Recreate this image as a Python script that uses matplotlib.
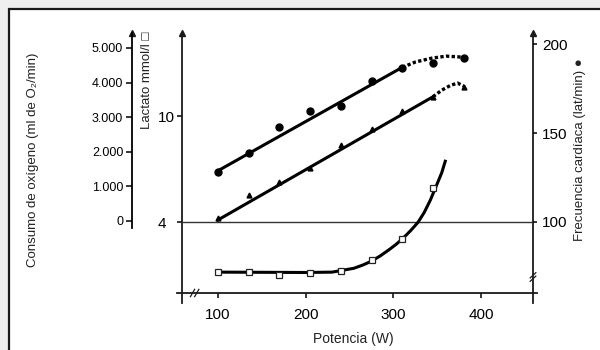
import matplotlib
matplotlib.use("Agg")
from matplotlib import pyplot as plt
from matplotlib.patches import Rectangle

plt.rcParams["font.family"] = ["Liberation Sans", "DejaVu Sans"]

# valores
potencia = [100, 135, 170, 205, 240, 275, 310, 345, 380]
fc = [128.3, 138.6, 153.2, 162.5, 165.2, 179.4, 186.3, 189.2, 192.0]
vo2 = [80, 750, 1140, 1540, 2200, 2660, 3190, 3590, 3880]
lactato_w = [100, 135, 170, 205, 240, 275, 310, 345]
lactato = [1.2, 1.21, 1.02, 1.15, 1.26, 1.87, 3.04, 5.93]

# rectas / curvas de ajuste
fc_recta_w = [100, 310]
fc_recta = [128.8, 186.9]
fc_curva_w = [310, 325, 343, 360, 380]
fc_curva = [186.9, 189.9, 192.0, 193.2, 192.6]
vo2_recta_w = [100, 345]
vo2_recta = [30, 3590]
vo2_curva_w = [345, 355, 365, 373, 380]
vo2_curva = [3590, 3780, 3920, 3985, 3900]
lac_curva_w = [100, 150, 200, 230, 255, 265, 275, 285, 295, 303, 311, 320, 328, 335, 342, 350, 355, 359]
lac_curva = [1.18, 1.17, 1.16, 1.18, 1.4, 1.58, 1.8, 2.1, 2.45, 2.75, 3.1, 3.55, 4.0, 4.55, 5.25, 6.2, 6.8, 7.45]

vo2_ticks = [0, 1000, 2000, 3000, 4000, 5000]
vo2_labels = ["0", "1.000", "2.000", "3.000", "4.000", "5.000"]

fig = plt.figure(figsize=(6, 3.5), dpi=100)
fig.patch.set_facecolor("#efefef")
fig.patches.append(Rectangle((9 / 600, -0.05), 1.0, 1 - 9 / 350 + 0.05,
                             transform=fig.transFigure, fc="white", ec="#1a1a1a",
                             lw=1.6, zorder=-10))

ax = fig.add_axes([182 / 600, 57 / 350, 351 / 600, 260 / 350])
ax.patch.set_visible(False)
ax.set_xlim(59, 459)
ax.set_ylim(0, 14.7)
for s in ax.spines.values():
    s.set_visible(False)

# ejes dibujados a mano
axis_kw = dict(transform=ax.transAxes, clip_on=False, color="#1a1a1a", lw=1.3)
ax.plot([0, 0], [-0.038, 1.0], **axis_kw)
ax.plot([1, 1], [-0.038, 1.0], **axis_kw)
ax.plot([-0.014, 1.011], [0, 0], **axis_kw)
ax.plot([0], [1.0], marker="^", ms=4, color="#1a1a1a", transform=ax.transAxes, clip_on=False)
ax.plot([1], [1.0], marker="^", ms=4, color="#1a1a1a", transform=ax.transAxes, clip_on=False)
ax.axhline(4, color="#333333", lw=1.0)

# marcas de corte
for bx in [0.030, 0.042]:
    ax.plot([bx - 0.006, bx + 0.006], [-0.014, 0.014], transform=ax.transAxes,
            clip_on=False, color="#1a1a1a", lw=0.9)
for by in [0.055, 0.068]:
    ax.plot([0.992, 1.008], [by - 0.01, by + 0.01], transform=ax.transAxes,
            clip_on=False, color="#1a1a1a", lw=0.9)

ax.set_xticks([100, 200, 300, 400])
ax.tick_params(axis="x", direction="out", length=3.6, width=1.1, pad=7, labelsize=11)
ax.set_yticks([4, 10])
ax.tick_params(axis="y", direction="out", length=3.6, width=1.1, pad=1.5, labelsize=11)
t4 = ax.yaxis.get_major_ticks()[0]
t4.tick1line.set_visible(False)
t4.set_pad(8)

ax.plot(lac_curva_w, lac_curva, color="black", lw=2.2, zorder=3)
ax.plot(lactato_w, lactato, "s", ms=5, mfc="white", mec="#222222", mew=0.9, zorder=4)

# frecuencia cardiaca (derecha)
ax_fc = ax.twinx()
ax_fc.set_ylim(60.1, 206.2)
for s in ax_fc.spines.values():
    s.set_visible(False)
ax_fc.set_yticks([100, 150, 200])
ax_fc.tick_params(axis="y", direction="out", length=3, width=1.1, pad=3.5, labelsize=11)
ax_fc.plot(fc_recta_w, fc_recta, color="black", lw=2.2)
ax_fc.plot(fc_curva_w, fc_curva, color="black", lw=2.4, linestyle=(0, (1.0, 0.7)))
ax_fc.plot(potencia, fc, "o", ms=5, color="black")

# consumo de oxigeno (eje izquierdo exterior)
ax_vo2 = ax.twinx()
ax_vo2.set_ylim(-2081, 5433)
for s in ax_vo2.spines.values():
    s.set_visible(False)
ax_vo2.spines["left"].set_visible(True)
ax_vo2.spines["left"].set_position(("axes", -0.1425))
ax_vo2.spines["left"].set_bounds(-200, 5433)
ax_vo2.spines["left"].set_linewidth(1.3)
ax_vo2.yaxis.tick_left()
ax_vo2.set_yticks(vo2_ticks)
ax_vo2.set_yticklabels(vo2_labels)
ax_vo2.tick_params(axis="y", direction="out", length=4.3, width=1.1, pad=2, labelsize=9)
ax_vo2.plot([-0.1425], [1.0], marker="^", ms=4, color="#1a1a1a",
            transform=ax_vo2.transAxes, clip_on=False)
ax_vo2.plot(vo2_recta_w, vo2_recta, color="black", lw=2.2)
ax_vo2.plot(vo2_curva_w, vo2_curva, color="black", lw=2.4, linestyle=(0, (1.0, 0.7)))
ax_vo2.plot(potencia, vo2, "^", ms=3.5, color="black")

# textos
fig.text(33 / 600, 1 - 160 / 350, "Consumo de oxígeno (ml de O₂/min)", rotation=90,
         ha="center", va="center", fontsize=9.5, color="#222222")
fig.text(147 / 600, 1 - 80 / 350, "Lactato mmol/l □", rotation=90,
         ha="center", va="center", fontsize=9.5, color="#222222")
fig.text(580 / 600, 1 - 150 / 350, "Frecuencia cardíaca (lat/min) ●", rotation=90,
         ha="center", va="center", fontsize=9.5, color="#222222")
fig.text(353 / 600, 1 - 339 / 350, "Potencia (W)", ha="center", va="center",
         fontsize=10, color="#222222")

fig.savefig("out.png", dpi=100, facecolor=fig.get_facecolor())
